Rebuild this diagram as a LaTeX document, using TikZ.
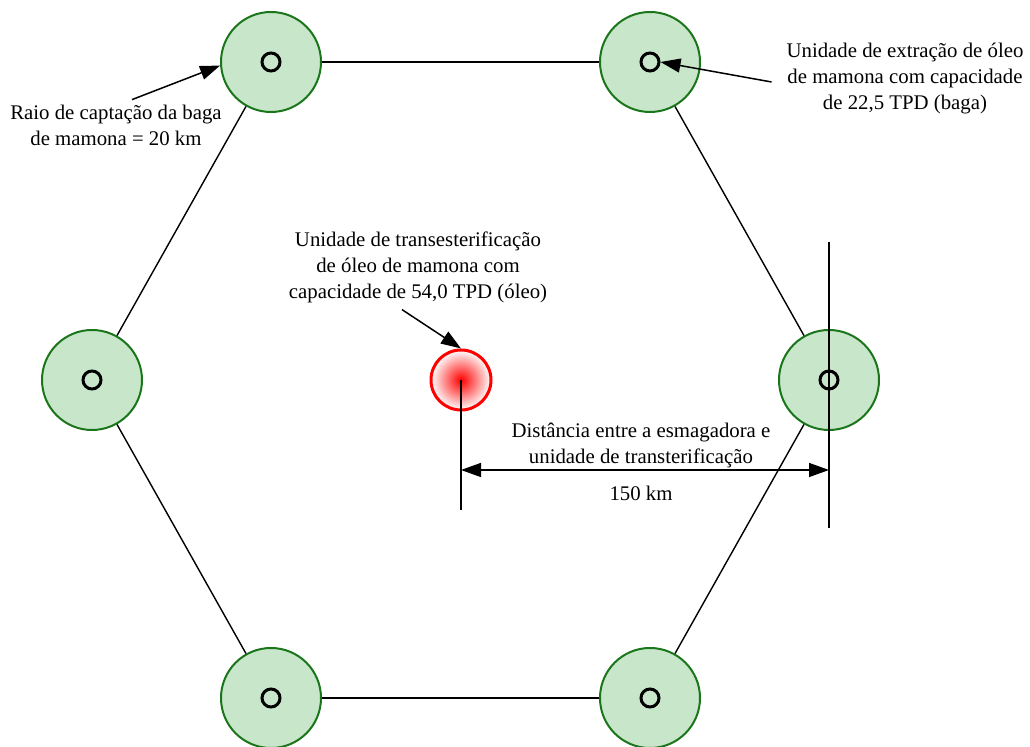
\documentclass[tikz,border=0pt]{standalone}
\usepackage{fontspec}
\setmainfont{Liberation Serif}
\newfontfamily\notefont{Liberation Serif}
\usepackage{xcolor}
\usetikzlibrary{arrows.meta,positioning}
\tikzset{%
  arrow/.style={line width=0.75pt,-{Triangle[length=10pt,width=7pt]}},
  dimension/.style={line width=0.75pt,{Triangle[length=10pt,width=7pt]}-{Triangle[length=10pt,width=7pt]}},
  edge/.style={line width=0.7pt},
  crusher/.style={circle,draw=darkgreen,line width=1pt,fill=lightgreen,minimum size=50pt,inner sep=0pt},
  hole/.style={circle,draw,line width=1.5pt,minimum size=9pt,inner sep=0pt},
  plant/.style={circle,draw=red,line width=1.5pt,minimum size=30pt,inner sep=0pt,inner color=red,outer color=white},
  note/.style={align=center,font=\notefont\fontsize{10.4}{13}\selectfont},
}
\definecolor{lightgreen}{HTML}{C8E6C9}
\definecolor{darkgreen}{HTML}{1B761B}

\begin{document}
\begin{tikzpicture}[x=0.5pt,y=-0.5pt]
      \useasboundingbox (0,0) rectangle (1030,747);

      % esmagadoras nos vertices do hexagono
      \node[crusher] (tl) at (271,62) {};
      \node[crusher] (tr) at (650,62) {};
      \node[crusher] (l) at (92,380) {};
      \node[crusher] (r) at (829,380) {};
      \node[crusher] (bl) at (271,698) {};
      \node[crusher] (br) at (650,698) {};
      \node[hole] (tlc) at (tl) {};
      \node[hole] (trc) at (tr) {};
      \node[hole] (lc) at (l) {};
      \node[hole] (rc) at (r) {};
      \node[hole] (blc) at (bl) {};
      \node[hole] (brc) at (br) {};

      \draw[edge] (tl) -- (tr);
      \draw[edge] (tr) -- (r);
      \draw[edge] (r) -- (br);
      \draw[edge] (br) -- (bl);
      \draw[edge] (bl) -- (l);
      \draw[edge] (l) -- (tl);

      % unidade central
      \node[plant] (center) at (461,380) {};

      \node[note] (raio) at (116,125) {Raio de captação da baga\\de mamona = 20 km};
      \node[note] (extr) at (905,79) {Unidade de extração de óleo\\de mamona com capacidade\\de 22,5 TPD (baga)};
      \node[note] (trans) at (418,267) {Unidade de transesterificação\\de óleo de mamona com\\capacidade de 54,0 TPD (óleo)};
      \node[note] (dist) at (641,445) {Distância entre a esmagadora e\\unidade de transterificação};
      \node[note] (km) at (641,493) {150 km};

      \draw[arrow] ([xshift=8pt,yshift=-1pt]raio.north) -- (tl.184);
      \draw[arrow] ([xshift=-4pt,yshift=-1.5pt]extr.west) -- (trc.east);
      \draw[arrow] ([xshift=-8pt]trans.south) -- (center.north);

      % cotas
      \coordinate (rtop) at (829,242);
      \coordinate (rbot) at (829,528);
      \coordinate (cbot) at (461,510);
      \coordinate (dimL) at (461,470);
      \coordinate (dimR) at (829,470);
      \draw[edge] (rtop) -- (rbot);
      \draw[edge] (center.center) -- (cbot);
      \draw[dimension] (dimL) -- (dimR);
    \end{tikzpicture}
\end{document}
